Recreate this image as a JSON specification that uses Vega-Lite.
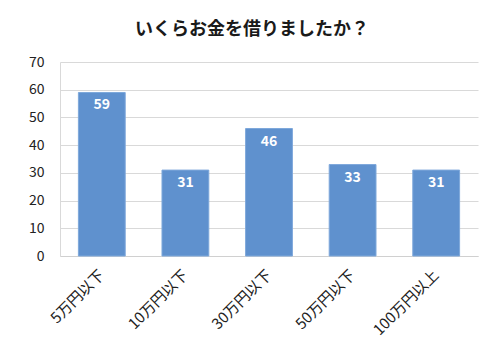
{
  "$schema": "https://vega.github.io/schema/vega-lite/v6.json",
  "autosize": "none",
  "width": 418,
  "height": 194,
  "padding": {"left": 60, "top": 62, "right": 22, "bottom": 104},
  "background": "white",
  "title": {
    "text": "いくらお金を借りましたか？",
    "font": "Noto Sans CJK JP",
    "fontSize": 18,
    "fontWeight": "bold",
    "color": "#1a1a1a",
    "anchor": "middle",
    "dx": -17,
    "offset": 16
  },
  "data": {
    "values": [
      {"category": "5万円以下", "count": 59},
      {"category": "10万円以下", "count": 31},
      {"category": "30万円以下", "count": 46},
      {"category": "50万円以下", "count": 33},
      {"category": "100万円以上", "count": 31}
    ]
  },
  "encoding": {
    "x": {
      "field": "category",
      "type": "nominal",
      "sort": null,
      "scale": {"paddingInner": 0.44, "paddingOuter": 0.22},
      "axis": {
        "title": null,
        "labelAngle": -45,
        "labelAlign": "right",
        "labelBaseline": "middle",
        "labelPadding": 16,
        "labelFont": "Noto Sans CJK JP",
        "labelFontSize": 15,
        "labelColor": "#222222",
        "ticks": false,
        "domainColor": "#d0d0d0",
        "grid": false
      }
    },
    "y": {
      "field": "count",
      "type": "quantitative",
      "scale": {"domain": [0, 70]},
      "axis": {
        "title": null,
        "values": [0, 10, 20, 30, 40, 50, 60, 70],
        "labelFont": "Noto Sans CJK JP",
        "labelFontSize": 14,
        "labelColor": "#222222",
        "labelPadding": 16,
        "ticks": false,
        "domainColor": "#d9d9d9",
        "gridColor": "#d9d9d9"
      }
    }
  },
  "layer": [
    {"mark": {"type": "bar", "color": "#5F91CE", "stroke": "#7ea8db", "strokeWidth": 1}},
    {
      "mark": {
        "type": "text",
        "baseline": "top",
        "dy": 6,
        "color": "white",
        "font": "Noto Sans CJK JP",
        "fontSize": 14,
        "fontWeight": "bold"
      },
      "encoding": {"text": {"field": "count", "type": "quantitative"}}
    }
  ],
  "config": {"view": {"stroke": null}}
}
